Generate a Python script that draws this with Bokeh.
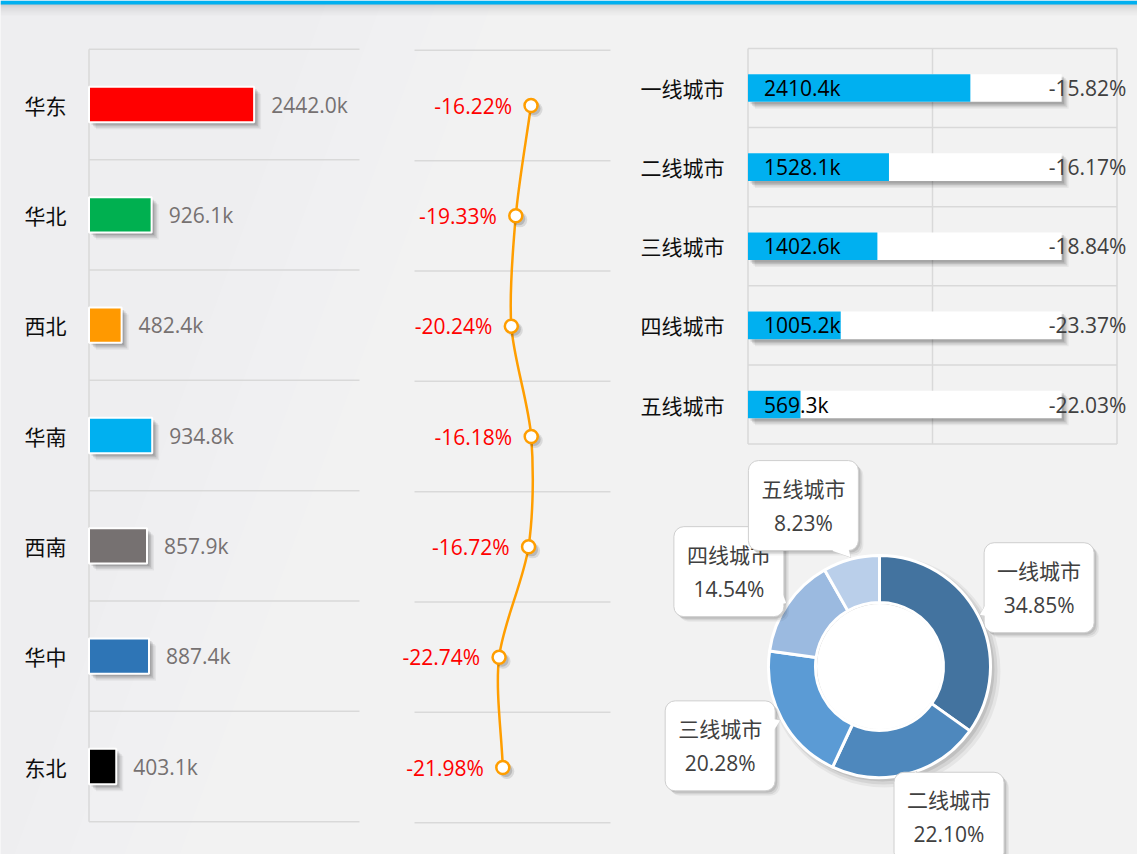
import math
from bokeh.plotting import figure
from bokeh.models import Range1d
from bokeh.embed import file_html
from bokeh.resources import INLINE
from bokeh.core.properties import value

# ---------------- data ----------------
regions = ["华东", "华北", "西北", "华南", "西南", "华中", "东北"]
region_sales = [2442.0, 926.1, 482.4, 934.8, 857.9, 887.4, 403.1]
region_colors = ["#FF0000", "#00B050", "#FF9900", "#00B0F0", "#767171", "#2E75B6", "#000000"]
region_growth = [-16.22, -19.33, -20.24, -16.18, -16.72, -22.74, -21.98]
left_axis_max = 4000
growth_axis = [-40, 0]

tiers = ["一线城市", "二线城市", "三线城市", "四线城市", "五线城市"]
tier_sales = [2410.4, 1528.1, 1402.6, 1005.2, 569.3]
tier_growth = [-15.82, -16.17, -18.84, -23.37, -22.03]
tier_back = [3400, 3400, 3400, 3400, 3400]
tier_axis_ticks = [0, 2000, 4000]
tier_share = [34.85, 22.10, 20.28, 14.54, 8.23]
tier_colors = ["#43739F", "#4E88BD", "#5B9BD5", "#9BBAE0", "#BACFEA"]

# ---------------- layout helpers ----------------
W, H, OFF = 1137, 854, 0
CJK = value("Noto Sans CJK SC")
NUM = value("Open Sans")


def fx(v1, p1, v2, p2):
    f1, f2 = p1 - OFF, p2 - OFF
    k = (v2 - v1) / (f2 - f1)
    return Range1d(start=v1 - f1 * k, end=v1 + (W - f1) * k), k


def fy(v1, p1, v2, p2):
    f1, f2 = p1 - OFF, p2 - OFF
    k = (v2 - v1) / (f2 - f1)
    return Range1d(start=v1 + (H - f1) * k, end=v1 - f1 * k), k


p = figure(width=W, height=H, x_range=Range1d(0, W), y_range=Range1d(H, 0),
           min_border=0, toolbar_location=None, tools="", output_backend="svg",
           x_axis_location=None, y_axis_location=None,
           background_fill_color="#EEEEF0", border_fill_color="#EEEEF0",
           outline_line_color=None)
p.xgrid.visible = False
p.ygrid.visible = False

n = len(regions)
m = len(tiers)
ridx = list(range(n))
tidx = list(range(m))

lxr, lkx = fx(0, 88.5, left_axis_max, 359)
lyr, lky = fy(0, 104, n - 1, 766)
mxr, mkx = fx(growth_axis[0], 414, growth_axis[1], 610)
myr, mky = fy(0, 105, n - 1, 767)
rxr, rkx = fx(0, 747.5, tier_axis_ticks[-1], 1116.5)
ryr, rky = fy(0, 87.5, m - 1, 404)
dxr, dkx = fx(0, 879, 1, 880)
dyr, dky = fy(0, 666, 1, 665)
p.extra_x_ranges = {"lx": lxr, "mx": mxr, "rx": rxr, "dx": dxr}
p.extra_y_ranges = {"ly": lyr, "my": myr, "ry": ryr, "dy": dyr}

# ---------------- background ----------------
for k in range(14):
    xt = 330 + k * 55
    p.patch(x=[xt, W + 10, W + 10, xt - 320], y=[-10, -10, H + 10, H + 10], fill_color="#FFFFFF",
            fill_alpha=0.07, line_color=None)
for i, a in enumerate([0.16, 0.10, 0.07, 0.05, 0.03, 0.02]):
    p.quad(left=0, right=W, top=3 + i * 2, bottom=5 + i * 2, fill_color="black", fill_alpha=a, line_color=None)
p.quad(left=0, right=W, top=0, bottom=4, fill_color="#00B0F0", line_color=None)

GRID = "#D9D9D9"

# ---------------- left bar chart ----------------
ys = [i - 0.5 for i in range(n + 1)]
p.segment(x0=[0] * (n + 1), x1=[left_axis_max] * (n + 1), y0=ys, y1=ys, line_color=GRID,
          line_width=1.5, x_range_name="lx", y_range_name="ly")
p.segment(x0=[0], x1=[0], y0=[-0.5], y1=[n - 0.5], line_color=GRID, line_width=1.5,
          x_range_name="lx", y_range_name="ly")
for d, a in [(7, 0.05), (5.5, 0.08), (4, 0.10), (2.5, 0.12)]:
    p.hbar(y=[i + d * lky for i in ridx], left=[d * lkx] * n, right=[v + d * lkx for v in region_sales],
           height=0.32, fill_color="black", fill_alpha=a, line_color=None,
           x_range_name="lx", y_range_name="ly")
p.hbar(y=ridx, left=[0] * n, right=region_sales, height=0.32, fill_color=region_colors,
       line_color="white", line_width=2, x_range_name="lx", y_range_name="ly")
p.text(x=region_sales, y=ridx, text=[f"{v:.1f}k" for v in region_sales], x_offset=17,
       text_align="left", text_baseline="middle", text_font=NUM, text_font_size="21px",
       text_color="#767171", x_range_name="lx", y_range_name="ly")
p.text(x=[24] * n, y=ridx, text=regions, text_align="left", text_baseline="middle",
       text_font=CJK, text_font_size="21px", text_color="#0D0D0D", y_range_name="ly")

# ---------------- middle line chart ----------------
p.segment(x0=[growth_axis[0]] * (n + 1), x1=[growth_axis[1]] * (n + 1), y0=ys, y1=ys,
          line_color=GRID, line_width=1.5, x_range_name="mx", y_range_name="my")
pts = list(zip(region_growth, ridx))
tan = []
for i in range(n):
    a = pts[max(i - 1, 0)]
    b = pts[min(i + 1, n - 1)]
    s = 0.5 if 0 < i < n - 1 else 1.0
    tan.append(((b[0] - a[0]) * s, (b[1] - a[1]) * s))
sm = 0.3
x0 = [pts[i][0] for i in range(n - 1)]
y0 = [pts[i][1] for i in range(n - 1)]
x1 = [pts[i + 1][0] for i in range(n - 1)]
y1 = [pts[i + 1][1] for i in range(n - 1)]
cx0 = [pts[i][0] + tan[i][0] * sm for i in range(n - 1)]
cy0 = [pts[i][1] + tan[i][1] * sm for i in range(n - 1)]
cx1 = [pts[i + 1][0] - tan[i + 1][0] * sm for i in range(n - 1)]
cy1 = [pts[i + 1][1] - tan[i + 1][1] * sm for i in range(n - 1)]
p.bezier(x0=x0, y0=y0, x1=x1, y1=y1, cx0=cx0, cy0=cy0, cx1=cx1, cy1=cy1,
         line_color="#FF9E00", line_width=2.5, x_range_name="mx", y_range_name="my")
for d, a, s in [(4, 0.10, 15), (3, 0.15, 13)]:
    p.scatter(x=[g + d * mkx for g in region_growth], y=[i + d * mky for i in ridx], size=s,
              fill_color="black", fill_alpha=a, line_color=None, x_range_name="mx", y_range_name="my")
p.scatter(x=region_growth, y=ridx, size=13, fill_color="white", line_color="#FF9E00",
          line_width=2.5, x_range_name="mx", y_range_name="my")
p.text(x=region_growth, y=ridx, text=[f"{g:.2f}%" for g in region_growth], x_offset=-19,
       text_align="right", text_baseline="middle", text_font=NUM, text_font_size="21px",
       text_color="#FF0000", x_range_name="mx", y_range_name="my")

# ---------------- right bar chart ----------------
tys = [i - 0.5 for i in range(m + 1)]
p.segment(x0=[tier_axis_ticks[0]] * (m + 1), x1=[tier_axis_ticks[-1]] * (m + 1), y0=tys, y1=tys,
          line_color=GRID, line_width=1.5, x_range_name="rx", y_range_name="ry")
p.segment(x0=tier_axis_ticks, x1=tier_axis_ticks, y0=[-0.5] * len(tier_axis_ticks),
          y1=[m - 0.5] * len(tier_axis_ticks), line_color=GRID, line_width=1.5,
          x_range_name="rx", y_range_name="ry")
for d, a in [(7, 0.05), (5.5, 0.08), (4, 0.10), (2.5, 0.12)]:
    p.hbar(y=[i + d * rky for i in tidx], left=[d * rkx] * m, right=[v + d * rkx for v in tier_back],
           height=0.35, fill_color="black", fill_alpha=a, line_color=None,
           x_range_name="rx", y_range_name="ry")
p.hbar(y=tidx, left=[0] * m, right=tier_back, height=0.35, fill_color="white", line_color=None,
       x_range_name="rx", y_range_name="ry")
p.hbar(y=tidx, left=[0] * m, right=tier_sales, height=0.35, fill_color="#00B0F0", line_color=None,
       x_range_name="rx", y_range_name="ry")
p.text(x=[0] * m, y=tidx, text=[f"{v:.1f}k" for v in tier_sales], x_offset=16,
       text_align="left", text_baseline="middle", text_font=NUM, text_font_size="21px",
       text_color="#000000", x_range_name="rx", y_range_name="ry")
p.text(x=tier_back, y=tidx, text=[f"{g:.2f}%" for g in tier_growth], x_offset=-13,
       text_align="left", text_baseline="middle", text_font=NUM, text_font_size="21px",
       text_color="#404040", x_range_name="rx", y_range_name="ry")
p.text(x=[724] * m, y=tidx, text=tiers, text_align="right", text_baseline="middle",
       text_font=CJK, text_font_size="21px", text_color="#0D0D0D", y_range_name="ry")

# ---------------- donut ----------------
total = sum(tier_share)
cum = [0.0]
for s in tier_share:
    cum.append(cum[-1] + s / total)
starts = [math.pi / 2 - 2 * math.pi * c for c in cum[:-1]]
ends = [math.pi / 2 - 2 * math.pi * c for c in cum[1:]]
R_IN, R_OUT = 64, 111
for d, a, r in [(5, 0.05, 116), (4, 0.07, 114), (3, 0.09, 112)]:
    p.annular_wedge(x=[d * dkx], y=[d * dky], inner_radius=R_IN, outer_radius=r,
                    start_angle=[0], end_angle=[2 * math.pi], fill_color="black", fill_alpha=a,
                    line_color=None, x_range_name="dx", y_range_name="dy")
p.annular_wedge(x=[0] * m, y=[0] * m, inner_radius=R_IN, outer_radius=R_OUT,
                start_angle=starts, end_angle=ends, direction="clock",
                fill_color=tier_colors, line_color="white", line_width=3,
                x_range_name="dx", y_range_name="dy")
p.circle(x=[0], y=[0], radius=R_IN - 1.5, fill_color="white", line_color=None,
         x_range_name="dx", y_range_name="dy")

label_adjust = [1, -10, 2, -2, -10.5]
label_radius = [178, 166, 178, 178, 178]
BW, BH = 55, 45
for i in range(m):
    mid_deg = (cum[i] + cum[i + 1]) / 2 * 360
    th = math.radians(mid_deg + label_adjust[i])
    cx = label_radius[i] * math.sin(th)
    cy = label_radius[i] * math.cos(th)
    # tail: apex on the donut's outer edge at the slice middle
    tm = math.radians(mid_deg)
    ax, ay = (R_OUT + 2) * math.sin(tm), (R_OUT + 2) * math.cos(tm)
    vx, vy = ax - cx, ay - cy
    L = math.hypot(vx, vy)
    ux, uy = vx / L, vy / L
    t = min(BW / abs(ux) if abs(ux) > 1e-9 else 1e9, BH / abs(uy) if abs(uy) > 1e-9 else 1e9)
    ex, ey = cx + ux * (t - 8), cy + uy * (t - 8)
    px_, py_ = -uy, ux
    tail_x = [ax, ex + px_ * 9, ex - px_ * 9]
    tail_y = [ay, ey + py_ * 9, ey - py_ * 9]
    for d, a in [(5, 0.05), (3.5, 0.08), (2, 0.10)]:
        p.quad(left=[cx - BW + d], right=[cx + BW + d], top=[cy + BH - d], bottom=[cy - BH - d],
               fill_color="black", fill_alpha=a, line_color=None, border_radius=10,
               x_range_name="dx", y_range_name="dy")
    p.patch(x=tail_x, y=tail_y, fill_color="white", line_color="#CFCFCF", line_width=1,
            x_range_name="dx", y_range_name="dy")
    p.quad(left=[cx - BW], right=[cx + BW], top=[cy + BH], bottom=[cy - BH],
           fill_color="white", line_color="#CFCFCF", line_width=1, border_radius=10,
           x_range_name="dx", y_range_name="dy")
    p.patch(x=tail_x, y=tail_y, fill_color="white", line_color=None,
            x_range_name="dx", y_range_name="dy")
    p.text(x=[cx], y=[cy + 18], text=[tiers[i]], text_align="center", text_baseline="middle",
           text_font=CJK, text_font_size="21px", text_color="#404040",
           x_range_name="dx", y_range_name="dy")
    p.text(x=[cx], y=[cy - 17], text=[f"{tier_share[i]:.2f}%"], text_align="center",
           text_baseline="middle", text_font=NUM, text_font_size="21px", text_color="#404040",
           x_range_name="dx", y_range_name="dy")

open("out.html", "w").write(file_html(p, INLINE))
